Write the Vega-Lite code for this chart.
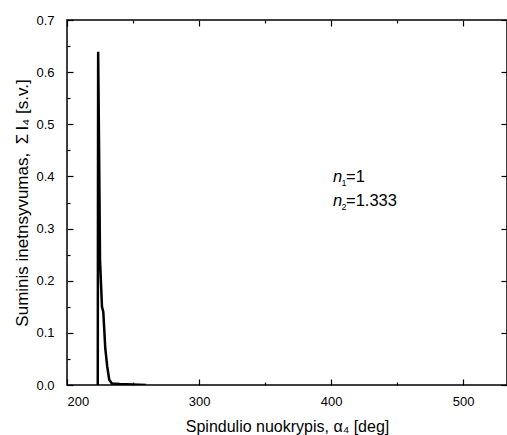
{
  "$schema": "https://vega.github.io/schema/vega-lite/v6.json",
  "width": 440,
  "height": 365,
  "autosize": {"type": "none"},
  "padding": {"left": 67, "top": 20, "right": 0, "bottom": 50},
  "background": "white",
  "config": {
    "view": {"stroke": "black", "strokeWidth": 1.5},
    "font": "Liberation Sans",
    "axis": {
      "labelFont": "Liberation Sans",
      "titleFont": "Liberation Sans",
      "labelFontSize": 13,
      "titleFontSize": 16,
      "titleFontWeight": "normal",
      "labelColor": "black",
      "titleColor": "black",
      "tickColor": "black",
      "domain": false,
      "grid": false,
      "tickWidth": 1.2
    }
  },
  "layer": [
    {
      "data": {"values": [
        {"a": 223.3, "s": 0.0},
        {"a": 223.6, "s": 0.639},
        {"a": 224.3, "s": 0.45},
        {"a": 225.0, "s": 0.24},
        {"a": 226.5, "s": 0.15},
        {"a": 227.5, "s": 0.14},
        {"a": 229.0, "s": 0.07},
        {"a": 230.5, "s": 0.035},
        {"a": 232.0, "s": 0.01},
        {"a": 234.0, "s": 0.003},
        {"a": 240.0, "s": 0.002},
        {"a": 250.0, "s": 0.001},
        {"a": 260.0, "s": 0.0}
      ]},
      "mark": {"type": "line", "color": "black", "strokeWidth": 2.5, "clip": true},
      "encoding": {
        "x": {"field": "a", "type": "quantitative",
          "scale": {"domain": [200, 533.3], "nice": false, "zero": false},
          "axis": {"orient": "bottom", "title": "Spindulio nuokrypis, α₄ [deg]",
            "values": [200, 250, 300, 350, 400, 450, 500],
            "labelExpr": "datum.value % 100 === 0 ? datum.label : ''",
            "tickSize": {"condition": {"test": "datum.value % 100 === 0", "value": -6}, "value": -3},
            "labelPadding": 16, "titlePadding": 10}},
        "y": {"field": "s", "type": "quantitative",
          "scale": {"domain": [0, 0.7], "nice": false},
          "axis": {"orient": "left", "title": "Suminis inetnsyvumas,\u2002Σ\u2009I₄ [s.v.]",
            "titleFontSize": 17,
            "values": [0, 0.05, 0.1, 0.15, 0.2, 0.25, 0.3, 0.35, 0.4, 0.45, 0.5, 0.55, 0.6, 0.65, 0.7],
            "labelExpr": "round(datum.value*100) % 10 === 0 ? format(datum.value, '.1f') : ''",
            "tickSize": {"condition": {"test": "round(datum.value*100) % 10 === 0", "value": -6}, "value": -3},
            "labelPadding": 19, "titlePadding": 4}}
      }
    },
    {
      "data": {"name": "ann", "values": [
        {"a": 401.5, "s": 0.399, "sub": "1", "val": "=1"},
        {"a": 401.5, "s": 0.353, "sub": "2", "val": "=1.333"}
      ]},
      "layer": [
        {
          "mark": {"type": "text", "align": "left", "baseline": "middle", "fontSize": 16.5, "font": "Liberation Sans", "fontStyle": "italic", "color": "black", "text": "n"},
          "encoding": {
            "x": {"field": "a", "type": "quantitative",
              "axis": {"orient": "top", "title": null, "labels": false,
                "values": [200, 250, 300, 350, 400, 450, 500],
                "tickSize": {"condition": {"test": "datum.value % 100 === 0", "value": -6}, "value": -3}}},
            "y": {"field": "s", "type": "quantitative",
              "axis": {"orient": "right", "title": null, "labels": false,
                "values": [0, 0.05, 0.1, 0.15, 0.2, 0.25, 0.3, 0.35, 0.4, 0.45, 0.5, 0.55, 0.6, 0.65, 0.7],
                "tickSize": {"condition": {"test": "round(datum.value*100) % 10 === 0", "value": -6}, "value": -3}}}
          }
        },
        {
          "mark": {"type": "text", "align": "left", "baseline": "middle", "fontSize": 9, "font": "Liberation Sans", "color": "black", "dx": 8.5, "dy": 6},
          "encoding": {
            "text": {"field": "sub"},
            "x": {"field": "a", "type": "quantitative"},
            "y": {"field": "s", "type": "quantitative"}
          }
        },
        {
          "mark": {"type": "text", "align": "left", "baseline": "middle", "fontSize": 16.5, "font": "Liberation Sans", "color": "black", "dx": 13},
          "encoding": {
            "text": {"field": "val"},
            "x": {"field": "a", "type": "quantitative"},
            "y": {"field": "s", "type": "quantitative"}
          }
        }
      ]
    }
  ]
}
